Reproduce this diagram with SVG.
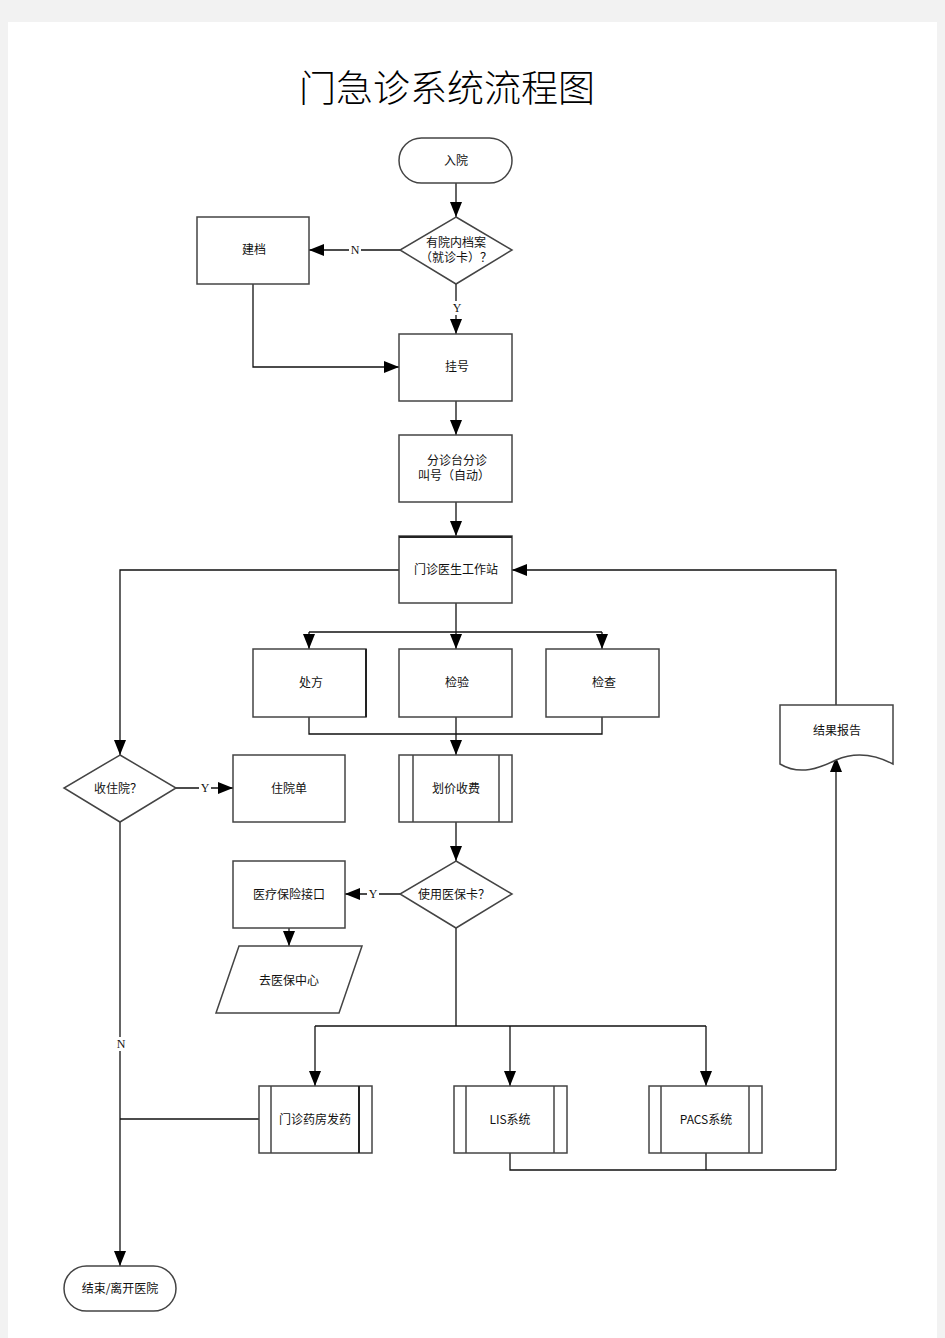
<svg xmlns="http://www.w3.org/2000/svg" width="945" height="1338" viewBox="0 0 945 1338">
<defs>
<marker id="ah" markerUnits="userSpaceOnUse" markerWidth="16" markerHeight="12" refX="15" refY="6" orient="auto">
<path d="M0,0 L15,6 L0,12 Z" fill="#000"/>
</marker>
<style>
.bg{fill:#f2f2f2}
.page{fill:#fff}
.box{fill:#fff;stroke:#444;stroke-width:1.5}
.in{fill:none;stroke:#444;stroke-width:1.5}
.ln{fill:none;stroke:#111;stroke-width:1.3}
.ar{fill:none;stroke:#111;stroke-width:1.3;marker-end:url(#ah)}
.t{font-family:"Noto Sans CJK SC","Liberation Sans",sans-serif;font-size:12px;fill:#111;text-anchor:middle;dominant-baseline:central}
.lb{font-family:"Liberation Serif","Noto Sans CJK SC",serif;font-size:12px;fill:#111;text-anchor:middle;dominant-baseline:central}
.title{font-family:"Noto Sans CJK SC","Liberation Serif",serif;font-size:37px;font-weight:300;fill:#000;text-anchor:middle}
</style>
</defs>
<rect class="bg" x="0" y="0" width="945" height="1338"/>
<rect class="page" x="8" y="22" width="929" height="1316"/>
<text class="title" x="447" y="102">门急诊系统流程图</text>

<g id="connectors">
<line class="ar" x1="456" y1="183" x2="456" y2="217"/>
<line class="ar" x1="400" y1="250" x2="309" y2="250"/>
<line class="ar" x1="456" y1="284" x2="456" y2="334"/>
<polyline class="ar" points="253,284 253,367 399,367"/>
<line class="ar" x1="456" y1="401" x2="456" y2="435"/>
<line class="ar" x1="456" y1="502" x2="456" y2="536"/>
<polyline class="ar" points="399,570 120,570 120,755"/>
<polyline class="ar" points="836,705 836,570 512,570"/>
<line class="ln" x1="456" y1="603" x2="456" y2="632"/>
<line class="ln" x1="309" y1="632" x2="602" y2="632"/>
<line class="ar" x1="309" y1="632" x2="309" y2="649"/>
<line class="ar" x1="456" y1="632" x2="456" y2="649"/>
<line class="ar" x1="602" y1="632" x2="602" y2="649"/>
<polyline class="ln" points="309,717 309,734 602,734 602,717"/>
<line class="ar" x1="456" y1="717" x2="456" y2="755"/>
<line class="ar" x1="176" y1="788" x2="233" y2="788"/>
<line class="ar" x1="456" y1="822" x2="456" y2="861"/>
<line class="ar" x1="400" y1="894" x2="345" y2="894"/>
<line class="ar" x1="289" y1="928" x2="289" y2="946"/>
<line class="ln" x1="456" y1="928" x2="456" y2="1026"/>
<line class="ln" x1="315" y1="1026" x2="706" y2="1026"/>
<line class="ar" x1="315" y1="1026" x2="315" y2="1086"/>
<line class="ar" x1="510" y1="1026" x2="510" y2="1086"/>
<line class="ar" x1="706" y1="1026" x2="706" y2="1086"/>
<polyline class="ln" points="510,1153 510,1170 836,1170"/>
<line class="ln" x1="706" y1="1153" x2="706" y2="1170"/>
<line class="ar" x1="836" y1="1170" x2="836" y2="757"/>
<line class="ar" x1="120" y1="822" x2="120" y2="1266"/>
<line class="ln" x1="259" y1="1119" x2="120" y2="1119"/>
<rect x="349" y="243" width="12" height="14" fill="#fff"/>
<text class="lb" x="355" y="250">N</text>
<rect x="451" y="301" width="12" height="14" fill="#fff"/>
<text class="lb" x="457" y="308">Y</text>
<rect x="199" y="781" width="12" height="14" fill="#fff"/>
<text class="lb" x="205" y="788">Y</text>
<rect x="367" y="887" width="12" height="14" fill="#fff"/>
<text class="lb" x="373" y="894">Y</text>
<rect x="115" y="1037" width="12" height="14" fill="#fff"/>
<text class="lb" x="121" y="1044">N</text>
</g>

<g id="start">
<rect class="box" x="399" y="138" width="113" height="45" rx="22.5"/>
<text class="t" x="456" y="159">入院</text>
</g>
<g id="has-record">
<polygon class="box" points="456,217 512,250 456,284 400,250"/>
<text class="t" x="456" y="241">有院内档案</text>
<text class="t" x="456" y="256">（就诊卡）？</text>
</g>
<g id="create-record">
<rect class="box" x="197" y="217" width="112" height="67"/>
<text class="t" x="254" y="248">建档</text>
</g>
<g id="register">
<rect class="box" x="399" y="334" width="113" height="67"/>
<text class="t" x="457" y="365">挂号</text>
</g>
<g id="triage">
<rect class="box" x="399" y="435" width="113" height="67"/>
<text class="t" x="457" y="459">分诊台分诊</text>
<text class="t" x="454" y="474">叫号（自动）</text>
</g>
<g id="doctor-station">
<rect class="box" x="399" y="536" width="113" height="67"/>
<line x1="399" y1="537" x2="512" y2="537" stroke="#222" stroke-width="2"/>
<text class="t" x="456" y="568">门诊医生工作站</text>
</g>
<g id="prescription">
<rect class="box" x="253" y="649" width="113" height="68"/>
<line x1="366" y1="649" x2="366" y2="717" stroke="#222" stroke-width="2"/>
<text class="t" x="311" y="681">处方</text>
</g>
<g id="lab-test">
<rect class="box" x="399" y="649" width="113" height="68"/>
<text class="t" x="457" y="681">检验</text>
</g>
<g id="exam">
<rect class="box" x="546" y="649" width="113" height="68"/>
<text class="t" x="604" y="681">检查</text>
</g>
<g id="billing">
<rect class="box" x="399" y="755" width="113" height="67"/>
<line class="in" x1="413" y1="755" x2="413" y2="822"/>
<line class="in" x1="499" y1="755" x2="499" y2="822"/>
<text class="t" x="456" y="787">划价收费</text>
</g>
<g id="admit">
<polygon class="box" points="120,755 176,788 120,822 64,788"/>
<text class="t" x="118" y="787">收住院？</text>
</g>
<g id="admission-form">
<rect class="box" x="233" y="755" width="112" height="67"/>
<text class="t" x="289" y="787">住院单</text>
</g>
<g id="use-card">
<polygon class="box" points="456,861 512,894 456,928 400,894"/>
<text class="t" x="454" y="893">使用医保卡？</text>
</g>
<g id="insurance-interface">
<rect class="box" x="233" y="861" width="112" height="67"/>
<text class="t" x="289" y="893">医疗保险接口</text>
</g>
<g id="insurance-center">
<polygon class="box" points="239,946 362,946 339,1013 216,1013"/>
<text class="t" x="289" y="979">去医保中心</text>
</g>
<g id="pharmacy">
<rect class="box" x="259" y="1086" width="113" height="67"/>
<line class="in" x1="271" y1="1086" x2="271" y2="1153"/>
<line x1="359" y1="1086" x2="359" y2="1153" stroke="#222" stroke-width="2"/>
<text class="t" x="315" y="1118">门诊药房发药</text>
</g>
<g id="lis">
<rect class="box" x="454" y="1086" width="113" height="67"/>
<line class="in" x1="466" y1="1086" x2="466" y2="1153"/>
<line class="in" x1="554" y1="1086" x2="554" y2="1153"/>
<text class="t" x="510" y="1118">LIS系统</text>
</g>
<g id="pacs">
<rect class="box" x="649" y="1086" width="113" height="67"/>
<line class="in" x1="661" y1="1086" x2="661" y2="1153"/>
<line class="in" x1="749" y1="1086" x2="749" y2="1153"/>
<text class="t" x="706" y="1118">PACS系统</text>
</g>
<g id="result-report">
<path class="box" d="M780,705 L893,705 L893,764 C870,752 850,754 836,760 C820,768 800,776 780,764 Z"/>
<text class="t" x="837" y="729">结果报告</text>
</g>
<g id="end">
<rect class="box" x="64" y="1266" width="112" height="45" rx="22.5"/>
<text class="t" x="120" y="1287">结束/离开医院</text>
</g>
</svg>
